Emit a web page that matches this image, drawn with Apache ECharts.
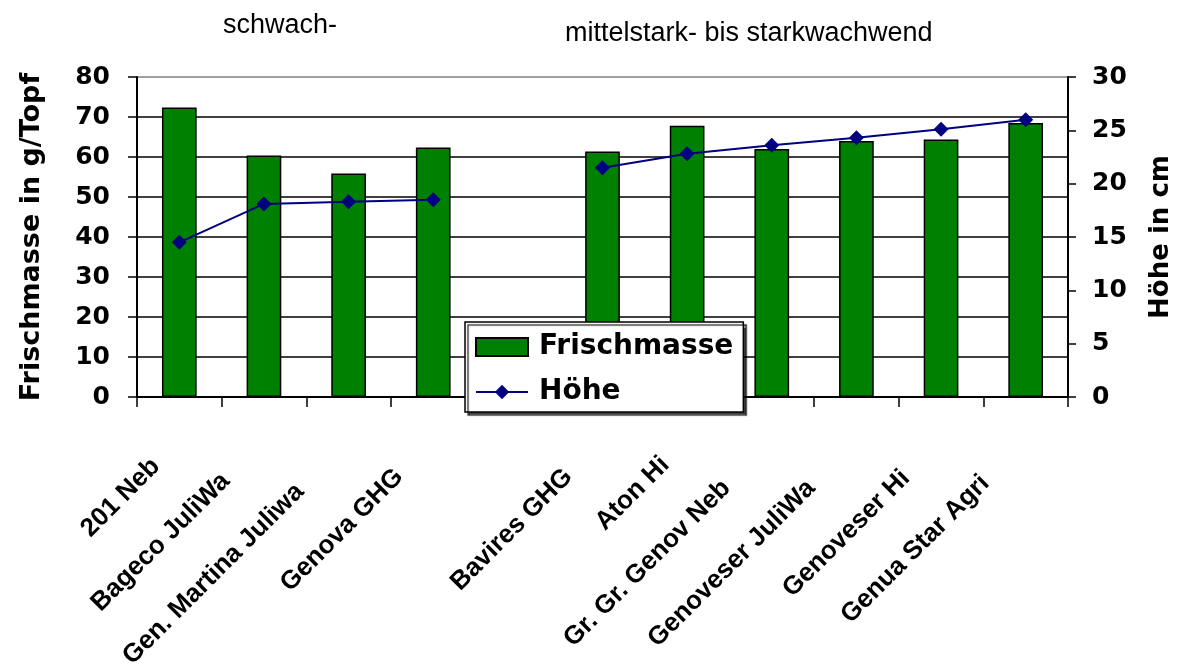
<!DOCTYPE html>
<html><head><meta charset="utf-8">
<script src="https://cdn.jsdelivr.net/npm/echarts@6/dist/echarts.min.js"></script>
<style>html,body{margin:0;padding:0;background:#fff}#c{width:1182px;height:664px}</style>
</head><body><div id="c"></div>
<script>
const categories = ['201 Neb','Bageco JuliWa','Gen. Martina Juliwa','Genova GHG','','Bavires GHG','Aton Hi','Gr. Gr. Genov Neb','Genoveser JuliWa','Genoveser Hi','Genua Star Agri'];
const frischmasse = [72.4,60.4,55.9,62.4,null,61.4,67.8,62.0,64.0,64.4,68.5];
const hoehe = [14.5,18.1,18.3,18.5,null,21.5,22.8,23.6,24.3,25.1,26.0];
const leftTicks = [0,10,20,30,40,50,60,70,80];
const rightTicks = [0,5,10,15,20,25,30];
const groupTexts = ['schwach-','mittelstark- bis starkwachwend'];

const labelFamily = 'Liberation Sans', labelSize = 26;
const ctx = document.createElement('canvas').getContext('2d');
ctx.font = 'bold ' + labelSize + 'px "' + labelFamily + '"';
const rich = {};
categories.forEach((c, i) => {
  const w = ctx.measureText(c).width;
  rich['l' + i] = {fontFamily: labelFamily, fontSize: labelSize, fontWeight: 'bold', color: '#000',
    padding: [0, Math.round(0.25 * w + 8), 0, 0]};
});

const boldFont = {fontFamily: 'DejaVu Sans', fontWeight: 'bold', color: '#000'};
const gridColors = leftTicks.map((t, i) => i === leftTicks.length - 1 ? '#808080' : '#000');

const chart = echarts.init(document.getElementById('c'));
chart.setOption({
  animation: false,
  backgroundColor: '#fff',
  title: [
    {text: groupTexts[0], left: 218, top: 7, textStyle: {fontFamily: 'Liberation Sans', fontWeight: 'normal', fontSize: 27, color: '#000'}},
    {text: groupTexts[1], left: 560, top: 15, textStyle: {fontFamily: 'Liberation Sans', fontWeight: 'normal', fontSize: 27, color: '#000'}}
  ],
  grid: {left: 137, right: 114, top: 77, bottom: 267, containLabel: false, outerBoundsMode: 'none'},
  legend: {
    orient: 'vertical', left: 465, top: 322,
    itemWidth: 52, itemHeight: 18, itemGap: 17,
    padding: [11, 10, 6, 10],
    backgroundColor: '#fff', borderColor: '#000', borderWidth: 1.5,
    shadowColor: 'rgba(0,0,0,0.75)', shadowOffsetX: 3, shadowOffsetY: 3, shadowBlur: 1,
    textStyle: Object.assign({fontSize: 28, padding: [0, 0, 0, 6]}, boldFont),
    data: [{name: 'Frischmasse', icon: 'rect'}, {name: 'Höhe'}]
  },
  xAxis: {
    type: 'category', data: categories,
    axisLine: {lineStyle: {color: '#000', width: 2}},
    axisTick: {show: true, length: 10, lineStyle: {color: '#000', width: 1.5}},
    axisLabel: {interval: 0, rotate: 45, margin: 42,
      formatter: (v, i) => v ? '{l' + i + '|' + v + '}' : '', rich: rich}
  },
  yAxis: [
    {type: 'value', min: leftTicks[0], max: leftTicks[leftTicks.length - 1], interval: leftTicks[1] - leftTicks[0],
     name: 'Frischmasse in g/Topf', nameLocation: 'middle', nameGap: 92, nameRotate: 90,
     nameTextStyle: Object.assign({fontSize: 27}, boldFont),
     axisLine: {show: true, lineStyle: {color: '#000', width: 2}},
     axisTick: {show: true, length: 9, lineStyle: {color: '#000', width: 1.5}},
     axisLabel: Object.assign({fontSize: 25, margin: 27}, boldFont),
     splitLine: {show: true, lineStyle: {color: gridColors, width: 1.5}}},
    {type: 'value', min: rightTicks[0], max: rightTicks[rightTicks.length - 1], interval: rightTicks[1] - rightTicks[0],
     position: 'right',
     name: 'Höhe in cm', nameLocation: 'middle', nameGap: 80, nameRotate: 90,
     nameTextStyle: Object.assign({fontSize: 26}, boldFont),
     axisLine: {show: true, lineStyle: {color: '#000', width: 2}},
     axisTick: {show: true, length: 8, lineStyle: {color: '#000', width: 1.5}},
     axisLabel: Object.assign({fontSize: 25, margin: 24}, boldFont),
     splitLine: {show: false}}
  ],
  series: [
    {name: 'Frischmasse', type: 'bar', data: frischmasse, barWidth: '41%', yAxisIndex: 0,
     itemStyle: {color: '#008000', borderColor: '#000', borderWidth: 1.5}},
    {name: 'Höhe', type: 'line', data: hoehe, yAxisIndex: 1, connectNulls: false,
     symbol: 'diamond', symbolSize: 15, showAllSymbol: true,
     lineStyle: {color: '#000080', width: 2}, itemStyle: {color: '#000080'}}
  ]
});
</script></body></html>
